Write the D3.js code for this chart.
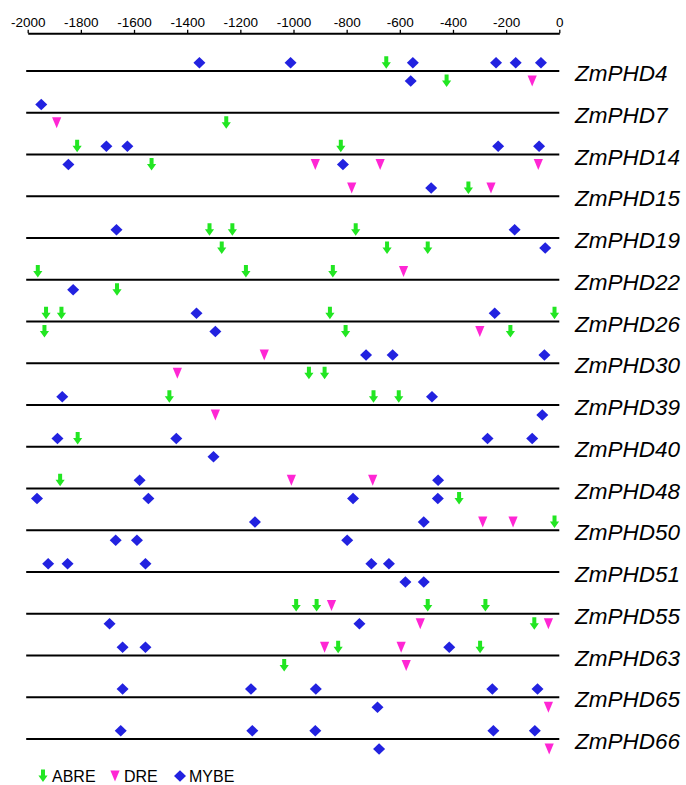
<!DOCTYPE html>
<html>
<head>
<meta charset="utf-8">
<script src="https://cdn.jsdelivr.net/npm/d3@7"></script>
<style>
  body { margin: 0; background: #fff; }
  svg { display: block; font-family: "Liberation Sans", Arial, sans-serif; }
</style>
</head>
<body>
<svg id="chart" width="686" height="785"></svg>
<script>
// gene rows, top to bottom
const genes = [
  "ZmPHD4", "ZmPHD7", "ZmPHD14", "ZmPHD15", "ZmPHD19", "ZmPHD22",
  "ZmPHD26", "ZmPHD30", "ZmPHD39", "ZmPHD40", "ZmPHD48", "ZmPHD50",
  "ZmPHD51", "ZmPHD55", "ZmPHD63", "ZmPHD65", "ZmPHD66"
];

const tickValues = [-2000, -1800, -1600, -1400, -1200, -1000, -800, -600, -400, -200, 0];

// [gene, position (bp upstream), strand: 1 = above line, -1 = below]
const abre = [
  ["ZmPHD4", -651, 1], ["ZmPHD4", -424, -1],
  ["ZmPHD7", -1253, -1],
  ["ZmPHD14", -1814, 1], ["ZmPHD14", -822, 1], ["ZmPHD14", -1534, -1],
  ["ZmPHD15", -342, 1],
  ["ZmPHD19", -1316, 1], ["ZmPHD19", -1230, 1], ["ZmPHD19", -766, 1],
  ["ZmPHD19", -1270, -1], ["ZmPHD19", -648, -1], ["ZmPHD19", -495, -1],
  ["ZmPHD22", -1962, 1], ["ZmPHD22", -1179, 1], ["ZmPHD22", -852, 1], ["ZmPHD22", -1664, -1],
  ["ZmPHD26", -1931, 1], ["ZmPHD26", -1873, 1], ["ZmPHD26", -863, 1], ["ZmPHD26", -18, 1],
  ["ZmPHD26", -1937, -1], ["ZmPHD26", -804, -1], ["ZmPHD26", -184, -1],
  ["ZmPHD30", -942, -1], ["ZmPHD30", -883, -1],
  ["ZmPHD39", -1467, 1], ["ZmPHD39", -699, 1], ["ZmPHD39", -604, 1],
  ["ZmPHD40", -1812, 1],
  ["ZmPHD48", -1878, 1], ["ZmPHD48", -377, -1],
  ["ZmPHD50", -18, 1],
  ["ZmPHD55", -990, 1], ["ZmPHD55", -913, 1], ["ZmPHD55", -495, 1], ["ZmPHD55", -278, 1],
  ["ZmPHD55", -94, -1],
  ["ZmPHD63", -832, 1], ["ZmPHD63", -298, 1], ["ZmPHD63", -1035, -1]
];

const dre = [
  ["ZmPHD4", -102, -1],
  ["ZmPHD7", -1891, -1],
  ["ZmPHD14", -918, -1], ["ZmPHD14", -674, -1], ["ZmPHD14", -79, -1],
  ["ZmPHD15", -781, 1], ["ZmPHD15", -257, 1],
  ["ZmPHD22", -586, 1],
  ["ZmPHD26", -299, -1],
  ["ZmPHD30", -1110, 1], ["ZmPHD30", -1437, -1],
  ["ZmPHD39", -1294, -1],
  ["ZmPHD48", -1008, 1], ["ZmPHD48", -702, 1],
  ["ZmPHD50", -288, 1], ["ZmPHD50", -174, 1],
  ["ZmPHD55", -857, 1], ["ZmPHD55", -523, -1], ["ZmPHD55", -41, -1],
  ["ZmPHD63", -883, 1], ["ZmPHD63", -595, 1], ["ZmPHD63", -576, -1],
  ["ZmPHD65", -41, -1],
  ["ZmPHD66", -38, -1]
];

const mybe = [
  ["ZmPHD4", -1354, 1], ["ZmPHD4", -1011, 1], ["ZmPHD4", -551, 1], ["ZmPHD4", -238, 1],
  ["ZmPHD4", -164, 1], ["ZmPHD4", -69, 1], ["ZmPHD4", -559, -1],
  ["ZmPHD7", -1949, 1],
  ["ZmPHD14", -1704, 1], ["ZmPHD14", -1625, 1], ["ZmPHD14", -230, 1], ["ZmPHD14", -76, 1],
  ["ZmPHD14", -1847, -1], ["ZmPHD14", -814, -1],
  ["ZmPHD15", -482, 1],
  ["ZmPHD19", -1666, 1], ["ZmPHD19", -168, 1], ["ZmPHD19", -53, -1],
  ["ZmPHD22", -1829, -1],
  ["ZmPHD26", -1365, 1], ["ZmPHD26", -243, 1], ["ZmPHD26", -1294, -1],
  ["ZmPHD30", -727, 1], ["ZmPHD30", -627, 1], ["ZmPHD30", -56, 1],
  ["ZmPHD39", -1870, 1], ["ZmPHD39", -479, 1], ["ZmPHD39", -64, -1],
  ["ZmPHD40", -1888, 1], ["ZmPHD40", -1441, 1], ["ZmPHD40", -270, 1], ["ZmPHD40", -102, 1],
  ["ZmPHD40", -1301, -1],
  ["ZmPHD48", -1579, 1], ["ZmPHD48", -456, 1],
  ["ZmPHD48", -1965, -1], ["ZmPHD48", -1546, -1], ["ZmPHD48", -776, -1], ["ZmPHD48", -457, -1],
  ["ZmPHD50", -1145, 1], ["ZmPHD50", -510, 1],
  ["ZmPHD50", -1669, -1], ["ZmPHD50", -1589, -1], ["ZmPHD50", -798, -1],
  ["ZmPHD51", -1923, 1], ["ZmPHD51", -1850, 1], ["ZmPHD51", -1557, 1], ["ZmPHD51", -707, 1],
  ["ZmPHD51", -641, 1], ["ZmPHD51", -579, -1], ["ZmPHD51", -510, -1],
  ["ZmPHD55", -1692, -1], ["ZmPHD55", -752, -1],
  ["ZmPHD63", -1643, 1], ["ZmPHD63", -1557, 1], ["ZmPHD63", -414, 1],
  ["ZmPHD65", -1643, 1], ["ZmPHD65", -1160, 1], ["ZmPHD65", -916, 1], ["ZmPHD65", -252, 1],
  ["ZmPHD65", -82, 1], ["ZmPHD65", -684, -1],
  ["ZmPHD66", -1650, 1], ["ZmPHD66", -1155, 1], ["ZmPHD66", -918, 1], ["ZmPHD66", -248, 1],
  ["ZmPHD66", -92, 1], ["ZmPHD66", -678, -1]
];

const legendItems = ["ABRE", "DRE", "MYBE"];

/**
 * Settings
 */
const COLORS = { ABRE: "#22e622", DRE: "#ff26d4", MYBE: "#2222e0" };

// symbol paths centred on 0,0
const SHAPES = {
  ABRE: "M-2,-6.5H2V-0.5H4.6L0,6L-4.6,-0.5H-2Z",
  DRE: "M-4.6,-5.5H4.6L0,5.5Z",
  MYBE: "M0,-5.8L6,0L0,5.8L-6,0Z",
};

const svg = d3.select("#chart");

const x = d3.scaleLinear().domain([-2000, 0]).range([27.7, 559.3]);
const y = d3.scalePoint().domain(genes).range([71, 739]);

// distance of a symbol centre from its line
const offset = (strand) => (strand > 0 ? -8.3 : 10);

// top axis
const axis = svg.append("g")
  .attr("transform", "translate(0,33.3)")
  .call(
    d3.axisTop(x)
      .tickValues(tickValues)
      .tickFormat((d) => String(d))
      .tickSize(3.5)
      .tickSizeOuter(0)
      .tickPadding(2.5)
  );

axis.select(".domain").attr("stroke", "#000").attr("stroke-width", 2);
axis.selectAll(".tick line").attr("stroke", "#000").attr("stroke-width", 1.3);
axis.selectAll(".tick text")
  .attr("font-size", 13.5)
  .attr("font-family", "Liberation Sans, Arial, sans-serif")
  .attr("fill", "#000");

// gene lines
svg.append("g")
  .selectAll("line")
  .data(genes)
  .enter()
  .append("line")
  .attr("x1", x(-2000) - 1.5)
  .attr("x2", x(0))
  .attr("y1", (d) => y(d))
  .attr("y2", (d) => y(d))
  .attr("stroke", "#000")
  .attr("stroke-width", 2);

// gene names
svg.append("g")
  .selectAll("text")
  .data(genes)
  .enter()
  .append("text")
  .attr("x", 575)
  .attr("y", (d) => y(d) + 10)
  .attr("font-size", 22.5)
  .attr("font-style", "italic")
  .attr("fill", "#000")
  .text((d) => d);

// elements
function drawElements(rows, type) {
  svg.append("g")
    .selectAll("path")
    .data(rows)
    .enter()
    .append("path")
    .attr("d", SHAPES[type])
    .attr("fill", COLORS[type])
    .attr("transform", (d) => "translate(" + x(d[1]) + "," + (y(d[0]) + offset(d[2])) + ")");
}

drawElements(abre, "ABRE");
drawElements(dre, "DRE");
drawElements(mybe, "MYBE");

// legend
const legendX = [43, 115, 180];
const legend = svg.append("g").attr("transform", "translate(0,776)");
legendItems.forEach((name, i) => {
  legend.append("path")
    .attr("d", SHAPES[name])
    .attr("fill", COLORS[name])
    .attr("transform", "translate(" + legendX[i] + ",0)");
  legend.append("text")
    .attr("x", legendX[i] + 9)
    .attr("y", 6)
    .attr("font-size", 16)
    .attr("fill", "#000")
    .text(name);
});
</script>
</body>
</html>
